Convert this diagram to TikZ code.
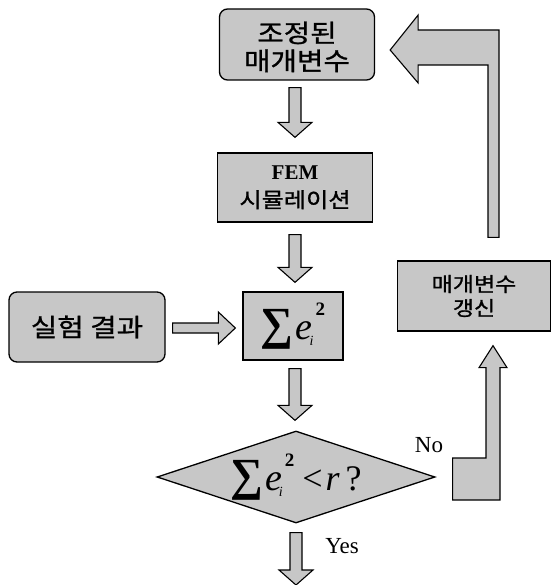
\documentclass[tikz,border=0pt]{standalone}
\usepackage{fontspec}
\setmainfont{Liberation Serif}
\newfontfamily\kr[FakeStretch=1.15,FakeBold=1]{Noto Sans CJK KR}
\usetikzlibrary{shapes.geometric,calc}
\definecolor{fillg}{gray}{0.78}
\tikzset{
  box/.style={draw=black, line width=1.3pt, fill=fillg, inner sep=0pt, align=center},
  rbox/.style={box, rounded corners=8pt},
  krbig/.style={font=\kr\fontsize{25}{24}\selectfont},
  krsmall/.style={font=\kr\fontsize{20}{24}\selectfont},
  blk/.style={draw=black, line width=1.1pt, fill=fillg, line join=miter},
  lbl/.style={font=\fontsize{23}{23}\selectfont, inner sep=0pt}
}
\newcommand{\dnbox}[2]{\raisebox{-#1}[\height][\depth]{\begin{tabular}{@{}c@{}}#2\end{tabular}}}
\newcommand{\sumE}{{\fontsize{46}{46}\selectfont\bfseries ∑}\kern2pt{\fontsize{38}{38}\selectfont\itshape e}\kern-3pt\raisebox{-6pt}{\fontsize{14}{14}\selectfont\itshape i}\kern2pt\raisebox{24pt}{\fontsize{19}{19}\selectfont\bfseries 2}}
\newcommand{\downblk}[2]{\draw[blk] let \p1=(#1), \p2=(#2) in
  (\x1-6pt,\y1) -- (\x1+6pt,\y1) -- (\x1+6pt,\y2+15pt) -- (\x1+17pt,\y2+15pt) -- (\x1,\y2)
  -- (\x1-17pt,\y2+15pt) -- (\x1-6pt,\y2+15pt) -- cycle;}
\newcommand{\rightblk}[2]{\draw[blk] let \p1=(#1), \p2=(#2) in
  (\x1,\y1+5pt) -- (\x2-17pt,\y1+5pt) -- (\x2-17pt,\y1+16pt) -- (\x2,\y1)
  -- (\x2-17pt,\y1-16pt) -- (\x2-17pt,\y1-5pt) -- (\x1,\y1-5pt) -- cycle;}
\begin{document}
\begin{tikzpicture}[x=1pt,y=-1pt]
\useasboundingbox (0,0) rectangle (551,585);
\clip (0,0) rectangle (551,585);

\node[rbox, krbig, minimum width=155pt, minimum height=71pt] (adj) at (297,44.5) {\dnbox{5pt}{조정된\\매개변수}};
\node[box, minimum width=155pt, minimum height=69pt, font=\fontsize{21}{28}\selectfont] (fem) at (295,187.5)
  {{\bfseries FEM}\\{\kr 시뮬레이션}};
\node[box, minimum width=100pt, minimum height=68pt] (sum) at (293,326) {\sumE};
\node[rbox, krbig, minimum width=156pt, minimum height=70pt] (exp) at (87,327) {실험 결과};
\node[box, diamond, aspect=3, minimum width=278pt, minimum height=92pt] (dec) at (296,477)
  {\sumE\kern8pt{\fontsize{36}{36}\selectfont <\kern3pt{\itshape r}\kern6pt?}};
\node[box, krsmall, minimum width=153pt, minimum height=70pt] (upd) at (474,296) {매개변수\\갱신};

\node[lbl] (no) at (429,445) {No};
\node[lbl] (yes) at (342,546) {Yes};

% straight block arrows
\coordinate (a1s) at ($(adj.south)+(-2,7)$);
\coordinate (a1e) at ($(fem.north)+(0,-15)$);
\downblk{a1s}{a1e}
\coordinate (a2s) at ($(fem.south)+(0,12)$);
\coordinate (a2e) at ($(sum.north)+(0,-9)$);
\downblk{a2s}{a2e}
\coordinate (a3s) at ($(sum.south)+(2,8)$);
\coordinate (a3e) at ($(dec.north)+(0,-10)$);
\downblk{a3s}{a3e}
\coordinate (a4s) at ($(dec.south)+(0,9)$);
\coordinate (a4e) at (296,585);
\downblk{a4s}{a4e}
\coordinate (a5s) at ($(exp.east)+(7,1)$);
\coordinate (a5e) at ($(sum.west)+(-7,1)$);
\rightblk{a5s}{a5e}

% "No" L-shaped arrow up to the update box
\draw[blk] let \p1=($(dec.east)+(17,0)$), \p2=($(upd.south)+(19,14)$) in
  (\x1,\y1+19pt) -- (\x2-7pt,\y1+19pt) -- (\x2-7pt,\y2-22pt) -- (\x2-14pt,\y2-22pt) -- (\x2,\y2)
  -- (\x2+14pt,\y2-22pt) -- (\x2+7pt,\y2-22pt) -- (\x2+7pt,\y1-23pt) -- (\x1,\y1-23pt) -- cycle;

% big L arrow back to the adjusted parameters
\draw[blk] let \p1=($(adj.east)+(15,5.5)$), \p2=($(upd.north)+(19,-23)$) in
  (\x1,\y1) -- (\x1+28pt,\y1+35pt) -- (\x1+28pt,\y1+20pt) -- (\x2+6pt,\y1+20pt) -- (\x2+6pt,\y2)
  -- (\x2-5pt,\y2) -- (\x2-5pt,\y1-15pt) -- (\x1+28pt,\y1-15pt) -- (\x1+28pt,\y1-33pt) -- cycle;
\end{tikzpicture}
\end{document}
